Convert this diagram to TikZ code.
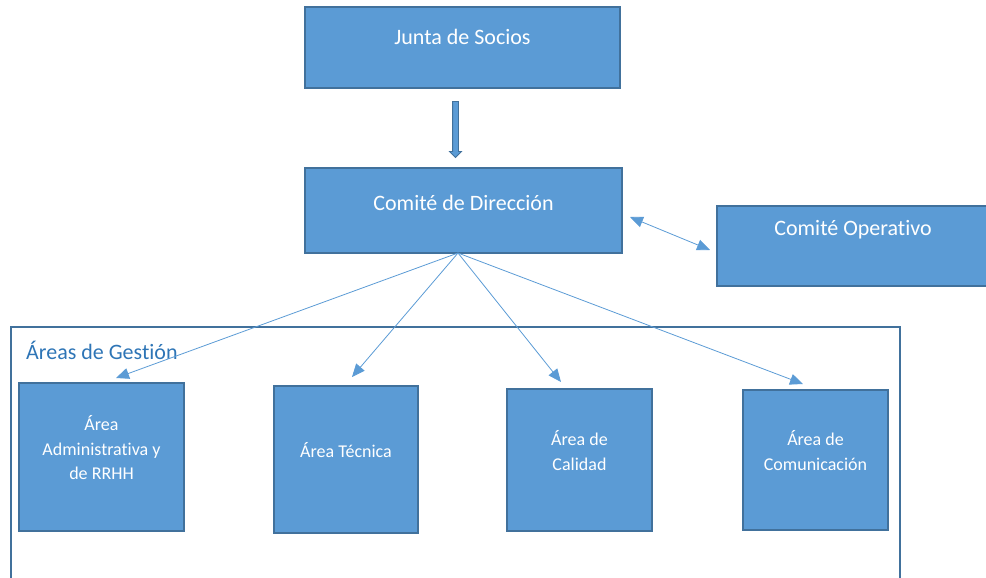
\documentclass[tikz,border=0pt]{standalone}
\usepackage{fontspec}
\setmainfont{Carlito}[Ligatures=NoCommon]
\usetikzlibrary{arrows.meta,shapes.arrows,calc}
\definecolor{boxfill}{HTML}{5B9BD5}
\definecolor{boxline}{HTML}{41719C}
\definecolor{titleblue}{HTML}{2E75B6}
\begin{document}
\begin{tikzpicture}[x=1pt,y=-1pt,
  box/.style 2 args={draw=boxline, fill=boxfill, line width=1.6pt, inner sep=0pt,
    minimum width=#1pt, minimum height=#2pt},
  bigtxt/.style={text=white, inner sep=0pt, anchor=base, font=\fontsize{22}{26}\selectfont},
  smalltxt/.style={text=white, inner sep=0pt, align=center, font=\fontsize{18}{24.5}\selectfont},
  thinarrow/.style={draw=boxfill, line width=0.8pt, -{Triangle[length=13pt,width=11pt]}},
  botharrow/.style={draw=boxfill, line width=0.8pt, {Triangle[length=13pt,width=11pt]}-{Triangle[length=13pt,width=11pt]}}
]
\useasboundingbox (0,0) rectangle (986,578);
% container
\node[draw=boxline, line width=1.6pt, inner sep=0pt, minimum width=889pt, minimum height=273pt] (areas) at (455.5,463.5) {};
\node[anchor=base west, inner sep=0pt, text=titleblue, font=\fontsize{22}{26}\selectfont] (areasT) at (26,359) {Áreas de Gestión};
% top boxes
\node[box={315}{81}] (jun) at (462.5,47.5) {};
\node[bigtxt] (junT) at (462.5,45) {Junta de Socios};
\node[box={317}{85}] (dir) at (463.5,210.5) {};
\node[bigtxt] (dirT) at (463.5,210) {Comité de Dirección};
\node[box={272}{80}] (ope) at (853,246) {};
\node[bigtxt] (opeT) at (853,235) {Comité Operativo};
% area boxes
\node[box={165}{148}] (adm) at (101.5,457) {};
\node[smalltxt] (admT) at (101.5,448) {Área\\Administrativa y\\de RRHH};
\node[box={144}{147}] (tec) at (346,459.5) {};
\node[smalltxt] (tecT) at (346,450) {Área Técnica};
\node[box={145}{142}] (cal) at (579.5,460) {};
\node[smalltxt] (calT) at (579.5,450.5) {Área de\\Calidad};
\node[box={145}{140}] (com) at (815.5,460) {};
\node[smalltxt] (comT) at (815.5,450.5) {Área de\\Comunicación};
% block arrow
\node[single arrow, draw=boxline, fill=boxfill, line width=0.8pt, rotate=-90,
  minimum height=56pt, inner sep=2.5pt, single arrow head extend=3pt] (blk) at (455.5,128) {};
% connectors
\coordinate (src) at (458,253);
\coordinate (tA) at (116,378);
\coordinate (tB) at (352,377);
\coordinate (tC) at (561,382);
\coordinate (tD) at (803,384);
\coordinate (oL) at (630,217);
\coordinate (oR) at (710,250);
\draw[thinarrow] (src) -- (tA);
\draw[thinarrow] (src) -- (tB);
\draw[thinarrow] (src) -- (tC);
\draw[thinarrow] (src) -- (tD);
\draw[botharrow] (oL) -- (oR);
\end{tikzpicture}
\end{document}
